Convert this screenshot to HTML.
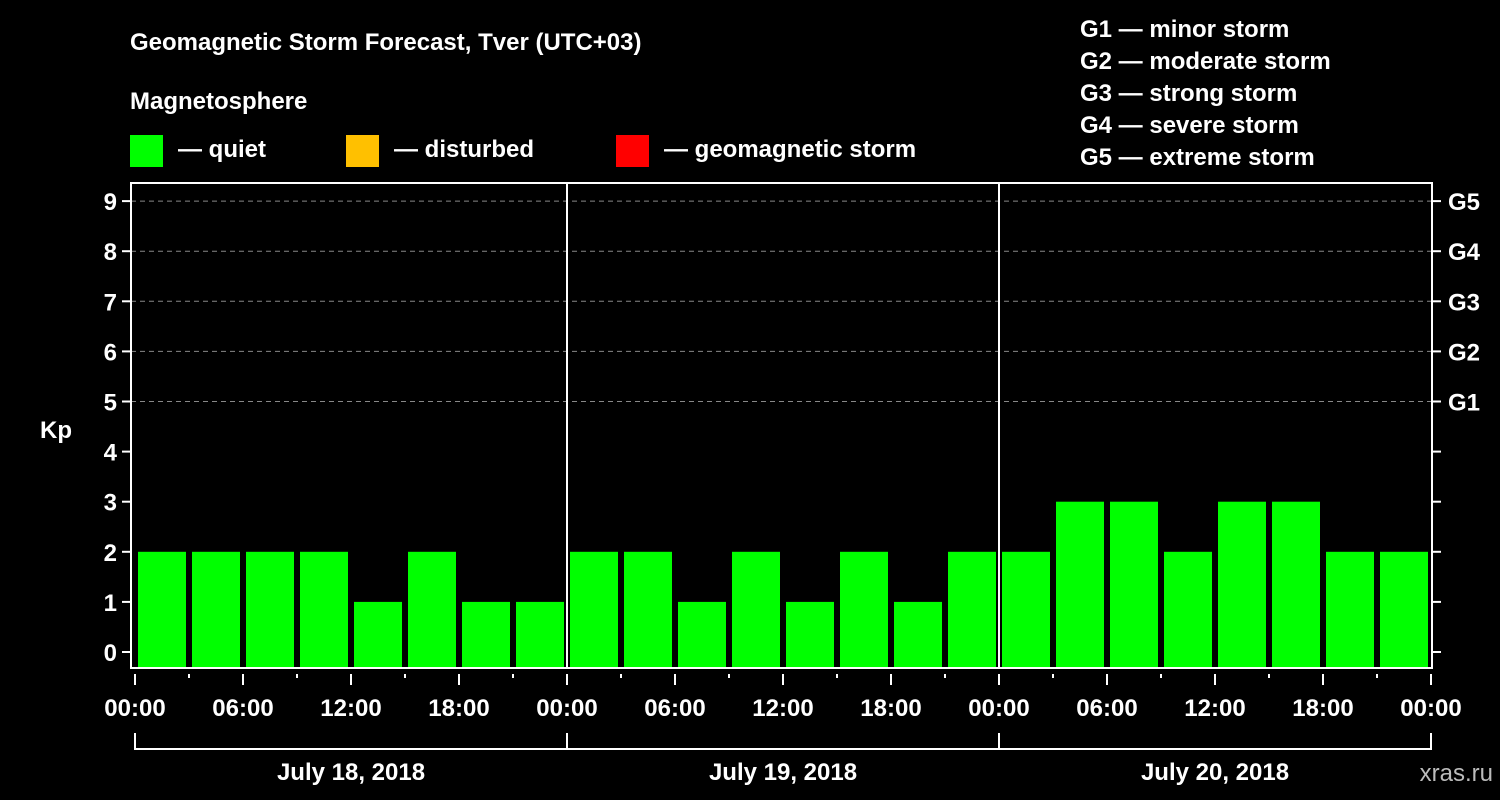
<!DOCTYPE html>
<html><head><meta charset="utf-8">
<style>
body{margin:0;background:#000;width:1500px;height:800px;overflow:hidden}
svg{display:block}
text{font-family:"Liberation Sans",sans-serif;font-weight:bold;fill:#fff}
</style></head>
<body>
<svg id="chart" width="1500" height="800">
<text x="130" y="50" font-size="24">Geomagnetic Storm Forecast, Tver (UTC+03)</text>
<text x="130" y="109" font-size="24">Magnetosphere</text>
<rect x="130" y="135" width="33" height="32" fill="#00ff00"/>
<text x="178" y="157" font-size="24">— quiet</text>
<rect x="346" y="135" width="33" height="32" fill="#ffc000"/>
<text x="394" y="157" font-size="24">— disturbed</text>
<rect x="616" y="135" width="33" height="32" fill="#ff0000"/>
<text x="664" y="157" font-size="24">— geomagnetic storm</text>
<g font-size="24">
<text x="1080" y="37">G1 — minor storm</text>
<text x="1080" y="69">G2 — moderate storm</text>
<text x="1080" y="101">G3 — strong storm</text>
<text x="1080" y="133">G4 — severe storm</text>
<text x="1080" y="165">G5 — extreme storm</text>
</g>
<text x="40" y="438" font-size="24">Kp</text>
<text x="1493" y="781" font-size="24" text-anchor="end" fill="#bbb" style="fill:#bbb;font-weight:normal">xras.ru</text>
<g id="plot"></g>
</svg>
<script>
const kpValues=[2,2,2,2,1,2,1,1, 2,2,1,2,1,2,1,2, 2,3,3,2,3,3,2,2];
const dayLabels=["July 18, 2018","July 19, 2018","July 20, 2018"];
const hourLabels=["00:00","06:00","12:00","18:00"];
const yTicks=[0,1,2,3,4,5,6,7,8,9];
const gLabels=["G1","G2","G3","G4","G5"];

const NS="http://www.w3.org/2000/svg";
const g=document.getElementById("plot");
const X0=135, DAY=432, L=131, R=1432, T=183, B=668;
const xs=h=>X0+h*DAY/24;
const ys=v=>652-v*50.1;
function mk(tag,attrs,parent){const e=document.createElementNS(NS,tag);for(const k in attrs)e.setAttribute(k,attrs[k]);(parent||g).appendChild(e);return e;}

// grid
yTicks.forEach(v=>{
  if(v>=5){const l=mk("line",{x1:L,x2:R,y1:ys(v),y2:ys(v),stroke:"#888","stroke-width":1,"stroke-dasharray":"5,4"});
  
  }
  const t1=mk("line",{x1:L-9,x2:L,y1:ys(v),y2:ys(v),stroke:"#fff","stroke-width":2});
  
  
  const t2=mk("line",{x1:R,x2:R+9,y1:ys(v),y2:ys(v),stroke:"#fff","stroke-width":2});
  
  
  const lb=mk("text",{x:L-14,y:ys(v)+9,"font-size":24,"text-anchor":"end"});
  lb.textContent=v;
  
  
  if(v>=5){const gl=mk("text",{x:R+16,y:ys(v)+9,"font-size":24});
  gl.textContent=gLabels[v-5];
  
  }
});
// bars
kpValues.forEach((v,i)=>{
  const x=xs(i*3)+3, w=xs(3)-xs(0)-6;
  const r=mk("rect",{x:x,y:ys(v),width:w,height:B-ys(v),fill:v>=5?"#ff0000":(v>=4?"#ffc000":"#00ff00")});
  
  
});
// day separators
[1,2].forEach(d=>{
  const l=mk("line",{x1:xs(d*24),x2:xs(d*24),y1:T,y2:B,stroke:"#fff","stroke-width":2});
  
  
});
// frame
const fr=mk("rect",{x:L,y:T,width:R-L,height:B-T,fill:"none",stroke:"#fff","stroke-width":2});


// x ticks and labels
for(let h=0;h<=72;h+=3){
  const major=h%6===0;
  const t=mk("line",{x1:xs(h),x2:xs(h),y1:B+6,y2:B+(major?17:10),stroke:"#fff","stroke-width":2});
  
  
  if(major){const lb=mk("text",{x:xs(h),y:716,"font-size":24,"text-anchor":"middle"});
  lb.textContent=hourLabels[(h%24)/6];
  
  }
}
// day brackets
dayLabels.forEach((d,i)=>{
  const x1=xs(i*24), x2=xs((i+1)*24);
  const p=mk("path",{d:`M${x1},733V749H${x2}V733`,fill:"none",stroke:"#fff","stroke-width":2});
  
  
  const t=mk("text",{x:(x1+x2)/2,y:780,"font-size":24,"text-anchor":"middle"});
  t.textContent=d;
  
  
});
</script>
</body></html>
